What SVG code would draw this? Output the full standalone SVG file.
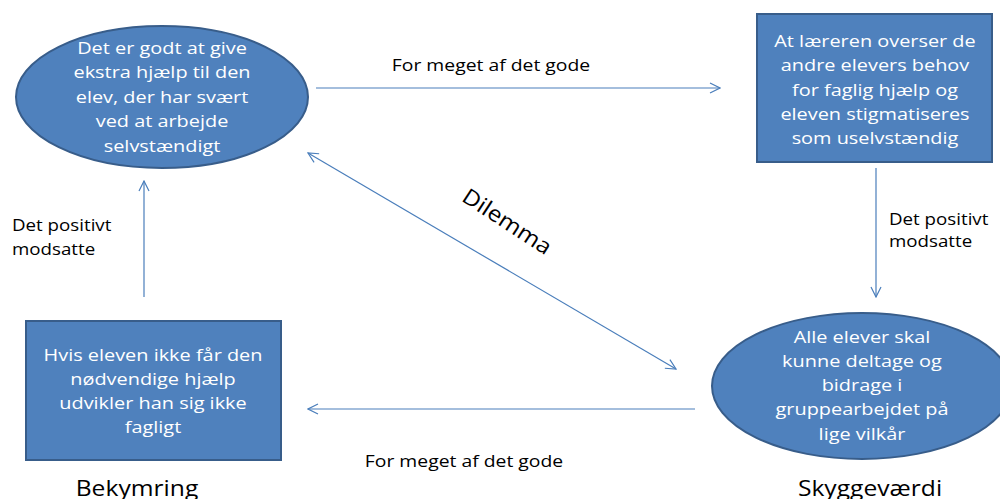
<svg xmlns="http://www.w3.org/2000/svg" width="1000" height="499" viewBox="0 0 1000 499">
<style>
.node{fill:#4F81BD;stroke:#385D8A;stroke-width:2}
.nt{fill:#fff;font-family:"Open Sans","Liberation Sans",sans-serif;font-size:17px;text-anchor:middle}
.lbl{fill:#000;font-family:"Open Sans","Liberation Sans",sans-serif;font-size:16px}
.big{fill:#000;font-family:"Open Sans","Liberation Sans",sans-serif;font-size:22px;text-anchor:middle}
.con{stroke:#4A7EBB;stroke-width:1.2;fill:none}
</style>
<defs>
<marker id="arr" viewBox="0 0 12 12" refX="11" refY="6" markerWidth="12" markerHeight="12" markerUnits="userSpaceOnUse" orient="auto-start-reverse">
<path d="M1,1 L11,6 L1,11" fill="none" stroke="#4A7EBB" stroke-width="1.2"/>
</marker>
</defs>
<rect width="1000" height="499" fill="#fff"/>
<g id="connectors">
<line class="con" x1="316" y1="88" x2="720" y2="88" marker-end="url(#arr)"/>
<line class="con" x1="876" y1="168" x2="876" y2="297" marker-end="url(#arr)"/>
<line class="con" x1="695" y1="409" x2="308" y2="409" marker-end="url(#arr)"/>
<line class="con" x1="144" y1="297" x2="144" y2="181" marker-end="url(#arr)"/>
<line class="con" x1="308" y1="153" x2="676" y2="369" marker-start="url(#arr)" marker-end="url(#arr)"/>
</g>
<g id="node1">
<ellipse class="node" cx="162" cy="97" rx="146" ry="71"/>
<g transform="translate(162 0) scale(1.17 1)">
<text class="nt" x="0" y="54">Det er godt at give</text>
<text class="nt" x="0" y="78.5">ekstra hjælp til den</text>
<text class="nt" x="0" y="103">elev, der har svært</text>
<text class="nt" x="0" y="127.5">ved at arbejde</text>
<text class="nt" x="0" y="152">selvstændigt</text>
</g>
</g>
<g id="node2">
<rect class="node" x="757" y="14" width="235" height="148"/>
<g transform="translate(875 0) scale(1.17 1)">
<text class="nt" x="0" y="47">At læreren overser de</text>
<text class="nt" x="0" y="71.5">andre elevers behov</text>
<text class="nt" x="0" y="96">for faglig hjælp  og</text>
<text class="nt" x="0" y="120">eleven stigmatiseres</text>
<text class="nt" x="0" y="144">som uselvstændig</text>
</g>
</g>
<g id="node3">
<ellipse class="node" cx="862" cy="386" rx="150" ry="73"/>
<g transform="translate(862 0) scale(1.17 1)">
<text class="nt" x="0" y="343">Alle elever skal</text>
<text class="nt" x="0" y="367">kunne deltage og</text>
<text class="nt" x="0" y="391.5">bidrage i</text>
<text class="nt" x="0" y="415.5">gruppearbejdet på</text>
<text class="nt" x="0" y="440">lige vilkår</text>
</g>
</g>
<g id="node4">
<rect class="node" x="26" y="321" width="255" height="139"/>
<g transform="translate(153 0) scale(1.17 1)">
<text class="nt" x="0" y="361">Hvis eleven ikke får den</text>
<text class="nt" x="0" y="385">nødvendige hjælp</text>
<text class="nt" x="0" y="409">udvikler han sig ikke</text>
<text class="nt" x="0" y="433">fagligt</text>
</g>
</g>
<g id="labels">
<text class="lbl" transform="translate(491 71) scale(1.21 1)" text-anchor="middle">For meget af det gode</text>
<text class="lbl" transform="translate(464 467) scale(1.21 1)" text-anchor="middle">For meget af det gode</text>
<text class="lbl" transform="translate(12 231) scale(1.17 1)">Det positivt</text>
<text class="lbl" transform="translate(12 255) scale(1.17 1)">modsatte</text>
<text class="lbl" transform="translate(889 225) scale(1.17 1)">Det positivt</text>
<text class="lbl" transform="translate(889 247) scale(1.17 1)">modsatte</text>
<text class="big" transform="translate(503 228) rotate(33) scale(1.1 1)" font-size="21">Dilemma</text>
<text class="big" transform="translate(137 496) scale(1.12 1)">Bekymring</text>
<text class="big" transform="translate(870 496) scale(1.12 1)">Skyggeværdi</text>
</g>
</svg>
